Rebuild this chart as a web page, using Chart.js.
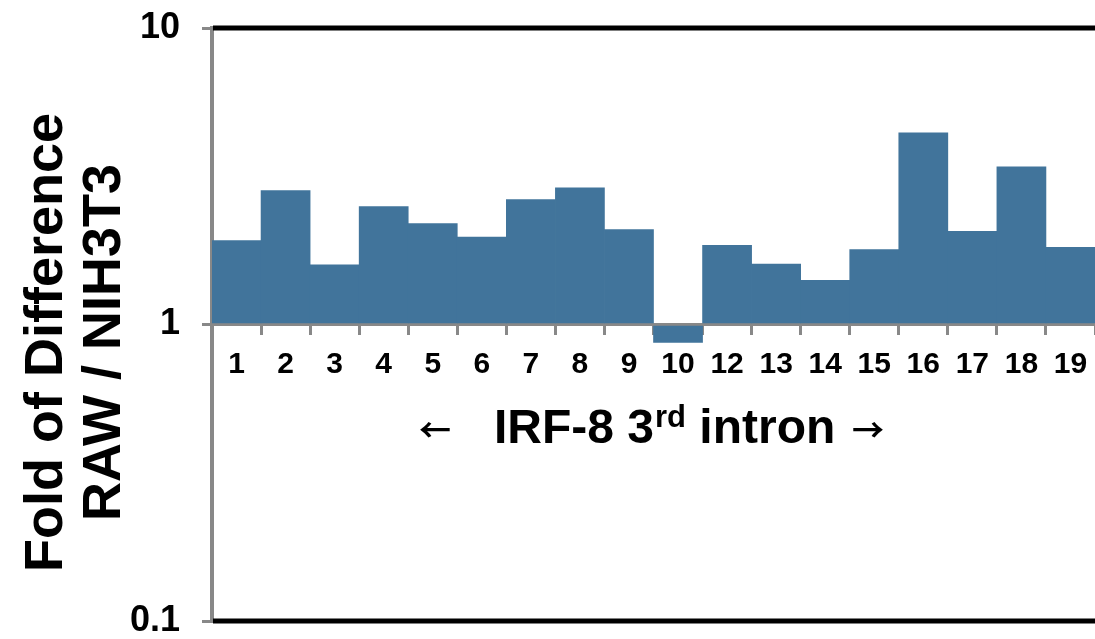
<!DOCTYPE html>
<html>
<head>
<meta charset="utf-8">
<script src="https://cdn.jsdelivr.net/npm/chart.js@4.4.1/dist/chart.umd.min.js"></script>
<style>
  html, body { margin: 0; padding: 0; background: #fff; }
  #wrap { width: 1095px; height: 639px; }
</style>
</head>
<body>
<div id="wrap"><canvas id="myChart"></canvas></div>
<script>
var regions = ['1', '2', '3', '4', '5', '6', '7', '8', '9', '10', '12', '13', '14', '15', '16', '17', '18', '19'];
var foldValues = [1.92, 2.83, 1.59, 2.50, 2.19, 1.97, 2.64, 2.89, 2.09, 0.87, 1.85, 1.60, 1.41, 1.79, 4.43, 2.06, 3.40, 1.82];
var yTicks = [0.1, 1, 10];
var yTickLabels = ['0.1', '1', '10'];
var yTitle = ['Fold of Difference', 'RAW / NIH3T3'];

// top/bottom frame lines + titles
var extras = {
  id: 'extras',
  afterDraw: function (chart) {
    var ctx = chart.ctx;
    var a = chart.chartArea;
    ctx.save();
    ctx.strokeStyle = '#000';
    ctx.lineWidth = 5;
    ctx.beginPath();
    ctx.moveTo(a.left + 1, a.top);
    ctx.lineTo(a.right, a.top);
    ctx.moveTo(a.left + 1, a.bottom);
    ctx.lineTo(a.right, a.bottom);
    ctx.stroke();

    // y axis title, two lines rotated
    ctx.fillStyle = '#000';
    ctx.font = 'bold 54px "Liberation Sans", Arial, sans-serif';
    ctx.textAlign = 'center';
    ctx.textBaseline = 'middle';
    var cy = (a.top + a.bottom) / 2 + 18;
    [47, 105].forEach(function (x, i) {
      ctx.save();
      ctx.translate(x, cy);
      ctx.rotate(-Math.PI / 2);
      ctx.fillText(yTitle[i], 0, 0);
      ctx.restore();
    });

    // bottom label with superscript
    var y = 443;
    var x = 494;
    ctx.textAlign = 'left';
    ctx.textBaseline = 'alphabetic';
    ctx.font = 'bold 48px "Liberation Sans", Arial, sans-serif';
    ctx.fillText('IRF-8 3', x, y);
    x += ctx.measureText('IRF-8 3').width + 1;
    ctx.font = 'bold 31px "Liberation Sans", Arial, sans-serif';
    ctx.fillText('rd', x, y - 16);
    x += ctx.measureText('rd').width;
    ctx.font = 'bold 48px "Liberation Sans", Arial, sans-serif';
    ctx.fillText(' intron', x, y);

    ctx.font = 'bold 32px "Noto Sans CJK JP", "DejaVu Sans", sans-serif';
    ctx.textBaseline = 'middle';
    ctx.textAlign = 'center';
    ctx.fillText('\u2192', 868, 430);
    ctx.fillText('\u2190', 435, 430);
    ctx.restore();
  }
};

var ctx = document.getElementById('myChart');
var chart = new Chart(ctx, {
  type: 'bar',
  data: {
    labels: regions,
    datasets: [{
      label: 'Fold of Difference',
      data: foldValues,
      base: 1,
      backgroundColor: '#41749b',
      borderWidth: 0,
      categoryPercentage: 1.0,
      barPercentage: 1.0
    }]
  },
  options: {
    responsive: true,
    maintainAspectRatio: false,
    animation: false,
    layout: { padding: { top: 28, bottom: 18, left: 0, right: 0 } },
    plugins: {
      legend: { display: false },
      tooltip: { enabled: false }
    },
    scales: {
      x: {
        position: { y: 1 },
        offset: true,
        afterFit: function (scale) {
          scale.height = 0;
          scale.paddingLeft = 0;
          scale.paddingRight = 0;
        },
        grid: {
          offset: true,
          drawOnChartArea: false,
          drawTicks: true,
          tickLength: 9,
          color: '#888',
          lineWidth: 3
        },
        border: { display: true, color: '#888', width: 3 },
        ticks: {
          color: '#000',
          padding: 13,
          maxRotation: 0,
          autoSkip: false,
          font: { family: '"Liberation Sans", Arial, sans-serif', size: 30, weight: 'bold' }
        }
      },
      y: {
        type: 'logarithmic',
        min: 0.1,
        max: 10,
        afterBuildTicks: function (scale) {
          scale.ticks = yTicks.map(function (v) { return { value: v }; });
        },
        afterFit: function (scale) {
          scale.width = 212;
          scale.paddingTop = 0;
          scale.paddingBottom = 0;
        },
        grid: {
          drawOnChartArea: false,
          tickLength: 10,
          color: '#888',
          lineWidth: 3
        },
        border: { display: true, color: '#888', width: 4 },
        ticks: {
          color: '#000',
          padding: 22,
          font: { family: '"Liberation Sans", Arial, sans-serif', size: 36, weight: 'bold', lineHeight: 1 },
          callback: function (value, index) { return yTickLabels[index]; }
        }
      }
    }
  },
  plugins: [extras]
});
</script>
</body>
</html>
